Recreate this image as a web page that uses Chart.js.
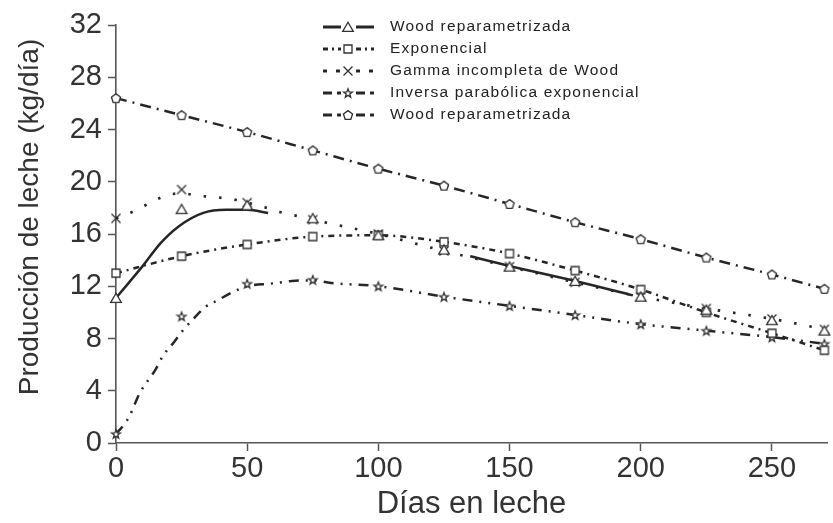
<!DOCTYPE html>
<html>
<head>
<meta charset="utf-8">
<script src="https://cdn.jsdelivr.net/npm/chart.js@4.4.1/dist/chart.umd.min.js"></script>
<style>
  html, body { margin: 0; padding: 0; background: #fff; }
  #wrap { width: 833px; height: 523px; }
</style>
</head>
<body>
<div id="wrap"><canvas id="lactation"></canvas></div>
<script>
// days in milk where each model is marked
const days = [0, 25, 50, 75, 100, 125, 150, 175, 200, 225, 250, 270];

// marked yields (kg/día)
const woodTriangle = [11.1, 17.9, 18.2, 17.2, 15.9, 14.8, 13.5, 12.4, 11.2, 10.2, 9.4, 8.6];
const exponencialSquare = [13.0, 14.3, 15.2, 15.8, 15.9, 15.4, 14.5, 13.2, 11.75, 10.0, 8.4, 7.1];
const gammaCross = [17.2, 19.4, 18.4, 17.1, 16.0, 14.7, 13.5, 12.3, 11.2, 10.3, 9.5, 8.7];
const inversaStar = [0.7, 9.7, 12.2, 12.5, 12.0, 11.2, 10.5, 9.8, 9.1, 8.6, 8.1, 7.6];
const woodPentagon = [26.4, 25.1, 23.8, 22.4, 21.0, 19.7, 18.3, 16.9, 15.6, 14.2, 12.9, 11.8];

// fitted curves that do not pass through the marks (null = break in the line)
const woodCurveDays = [0, 5, 10, 17, 24, 33, 42, 50, 58, 96, 135, 150, 175, 197];
const woodCurveValues = [11.1, 12.3, 13.5, 15.3, 16.6, 17.6, 17.85, 17.85, 17.6, null, 14.3, 13.55, 12.4, 11.3];
const gammaCurveDays = [0, 8, 14, 20, 25, 33, 39, 46, 50, 58, 64, 71, 75, 100, 125, 150, 175, 200, 225, 250, 270];
const gammaCurveValues = [17.2, 17.85, 18.5, 19.0, 19.1, 18.9, 18.8, 18.6, 18.4, 17.97, 17.6, 17.3, 17.1, 16.0, 14.7, 13.5, 12.3, 11.2, 10.3, 9.5, 8.7];
const inversaCurveDays = [0, 3, 5, 9, 15, 18, 22, 25, 29, 34, 39, 44, 50, 59, 67, 75, 82, 100, 125, 150, 175, 200, 225, 250, 270];
const inversaCurveValues = [0.7, 1.4, 2.0, 3.8, 5.6, 6.7, 7.7, 8.5, 9.4, 10.4, 10.95, 11.5, 12.0, 12.2, 12.4, 12.45, 12.25, 12.0, 11.2, 10.5, 9.8, 9.1, 8.6, 8.1, 7.6];

const modelNames = [
  "Wood reparametrizada",
  "Exponencial",
  "Gamma incompleta de Wood",
  "Inversa parabólica exponencial",
  "Wood reparametrizada"
];

const yTicks = [0, 4, 8, 12, 16, 20, 24, 28, 32];
const xTicks = [0, 50, 100, 150, 200, 250];
const yTitle = "Producción de leche (kg/día)";
const xTitle = "Días en leche";

const ink = "#262626";
const axisGrey = "#555";
const textGrey = "#333";
const fontFamily = "'Liberation Sans', Arial, sans-serif";

// hollow marker glyphs drawn once and reused as point styles
function makeMarker(kind) {
  const c = document.createElement("canvas");
  c.width = 14;
  c.height = 14;
  const g = c.getContext("2d");
  g.strokeStyle = "#303030";
  g.fillStyle = "#fff";
  g.lineWidth = 1.3;
  g.beginPath();
  if (kind === "triangle") {
    g.moveTo(7, 2.2);
    g.lineTo(12.3, 11.4);
    g.lineTo(1.7, 11.4);
    g.closePath();
  } else if (kind === "square") {
    g.rect(3, 3, 8, 8);
  } else if (kind === "cross") {
    g.moveTo(2.5, 2.5); g.lineTo(11.5, 11.5);
    g.moveTo(11.5, 2.5); g.lineTo(2.5, 11.5);
  } else if (kind === "star") {
    for (let i = 0; i < 10; i++) {
      const r = i % 2 ? 1.9 : 4.6;
      const a = -Math.PI / 2 + i * Math.PI / 5;
      const px = 7 + r * Math.cos(a), py = 7.5 + r * Math.sin(a);
      if (i) g.lineTo(px, py); else g.moveTo(px, py);
    }
    g.closePath();
  } else if (kind === "pentagon") {
    for (let i = 0; i < 5; i++) {
      const a = -Math.PI / 2 + i * 2 * Math.PI / 5;
      const px = 7 + 4.8 * Math.cos(a), py = 7.4 + 4.8 * Math.sin(a);
      if (i) g.lineTo(px, py); else g.moveTo(px, py);
    }
    g.closePath();
  }
  if (kind !== "cross") g.fill();
  g.stroke();
  return c;
}

const marks = {
  triangle: makeMarker("triangle"),
  square: makeMarker("square"),
  cross: makeMarker("cross"),
  star: makeMarker("star"),
  pentagon: makeMarker("pentagon")
};

// line look per model
const looks = [
  { point: marks.triangle, dash: [], width: 2.5, legendDash: [] },
  { point: marks.square, dash: [6, 5, 2, 5], width: 2.5, legendDash: [5, 4, 2, 4] },
  { point: marks.cross, dash: [2.5, 13], width: 2.7, legendDash: [4, 9] },
  { point: marks.star, dash: [10, 7, 2, 7, 2, 7], width: 2.5, legendDash: [9, 5] },
  { point: marks.pentagon, dash: [11, 6, 2, 6], width: 2.5, legendDash: [9, 5] }
];

function pairs(xs, ys) {
  return xs.map((x, i) => ({ x: x, y: ys[i] }));
}

const markValues = [woodTriangle, exponencialSquare, gammaCross, inversaStar, woodPentagon];
const curveData = [
  pairs(woodCurveDays, woodCurveValues),
  pairs(days, exponencialSquare),
  pairs(gammaCurveDays, gammaCurveValues),
  pairs(inversaCurveDays, inversaCurveValues),
  pairs(days, woodPentagon)
];

const datasets = [];
// marks first so they sit on top of the lines
markValues.forEach((vals, i) => {
  datasets.push({
    label: modelNames[i],
    data: pairs(days, vals),
    showLine: false,
    pointStyle: looks[i].point,
    pointRadius: 5,
    pointHoverRadius: 5,
    clip: false
  });
});
curveData.forEach((pts, i) => {
  datasets.push({
    label: modelNames[i],
    data: pts,
    borderColor: ink,
    borderWidth: looks[i].width,
    borderDash: looks[i].dash,
    pointRadius: 0,
    cubicInterpolationMode: "monotone",
    spanGaps: false,
    fill: false
  });
});

// legend drawn inside the plot, line sample with the marker in the middle
const modelKey = {
  id: "modelKey",
  afterDatasetsDraw(chart) {
    const ctx = chart.ctx;
    ctx.save();
    looks.forEach((look, i) => {
      const y = 27 + i * 22;
      ctx.strokeStyle = ink;
      ctx.lineWidth = 3;
      ctx.setLineDash(look.legendDash);
      ctx.beginPath();
      ctx.moveTo(323, y); ctx.lineTo(341, y);
      ctx.moveTo(356, y); ctx.lineTo(374, y);
      ctx.stroke();
      ctx.setLineDash([]);
      ctx.drawImage(look.point, 348 - 7, y - 7);
      ctx.font = "15.5px " + fontFamily;
      ctx.letterSpacing = "1.2px";
      ctx.fillStyle = "#222";
      ctx.textBaseline = "middle";
      ctx.textAlign = "left";
      ctx.fillText(modelNames[i], 390, y);
    });
    ctx.restore();
  }
};

// vertical axis title, sitting a little above the middle of the axis
const yAxisTitle = {
  id: "yAxisTitle",
  afterDraw(chart) {
    const ctx = chart.ctx;
    const area = chart.chartArea;
    ctx.save();
    ctx.translate(30, (area.top + area.bottom) / 2 - 17);
    ctx.rotate(-Math.PI / 2);
    ctx.font = "28px " + fontFamily;
    ctx.fillStyle = textGrey;
    ctx.textAlign = "center";
    ctx.textBaseline = "middle";
    ctx.fillText(yTitle, 0, 0);
    ctx.restore();
  }
};

new Chart(document.getElementById("lactation"), {
  type: "line",
  data: { datasets },
  plugins: [modelKey, yAxisTitle],
  options: {
    responsive: true,
    maintainAspectRatio: false,
    animation: false,
    events: [],
    layout: { padding: { top: 25, right: 0, bottom: 0, left: 0 } },
    plugins: {
      legend: { display: false },
      tooltip: { enabled: false }
    },
    scales: {
      x: {
        type: "linear",
        min: 0,
        max: 271,
        afterBuildTicks(scale) {
          scale.ticks = xTicks.map(v => ({ value: v }));
        },
        afterFit(scale) { scale.height = 80; },
        grid: {
          display: true,
          drawOnChartArea: false,
          drawTicks: true,
          tickLength: 8,
          tickWidth: 1.5,
          color: axisGrey
        },
        border: { display: true, color: axisGrey, width: 1.6 },
        ticks: {
          padding: 1,
          color: textGrey,
          font: { family: fontFamily, size: 29 }
        },
        title: {
          display: true,
          text: xTitle,
          color: textGrey,
          padding: { top: 0, bottom: 0 },
          font: { family: fontFamily, size: 31 }
        }
      },
      y: {
        type: "linear",
        min: 0,
        max: 32,
        afterBuildTicks(scale) {
          scale.ticks = yTicks.map(v => ({ value: v }));
        },
        afterFit(scale) { scale.width = 116; },
        grid: {
          display: true,
          drawOnChartArea: false,
          drawTicks: true,
          tickLength: 8,
          tickWidth: 1.5,
          color: axisGrey
        },
        border: { display: true, color: axisGrey, width: 1.6 },
        ticks: {
          padding: 6,
          color: textGrey,
          font: { family: fontFamily, size: 29 }
        }
      }
    }
  }
});
</script>
</body>
</html>
